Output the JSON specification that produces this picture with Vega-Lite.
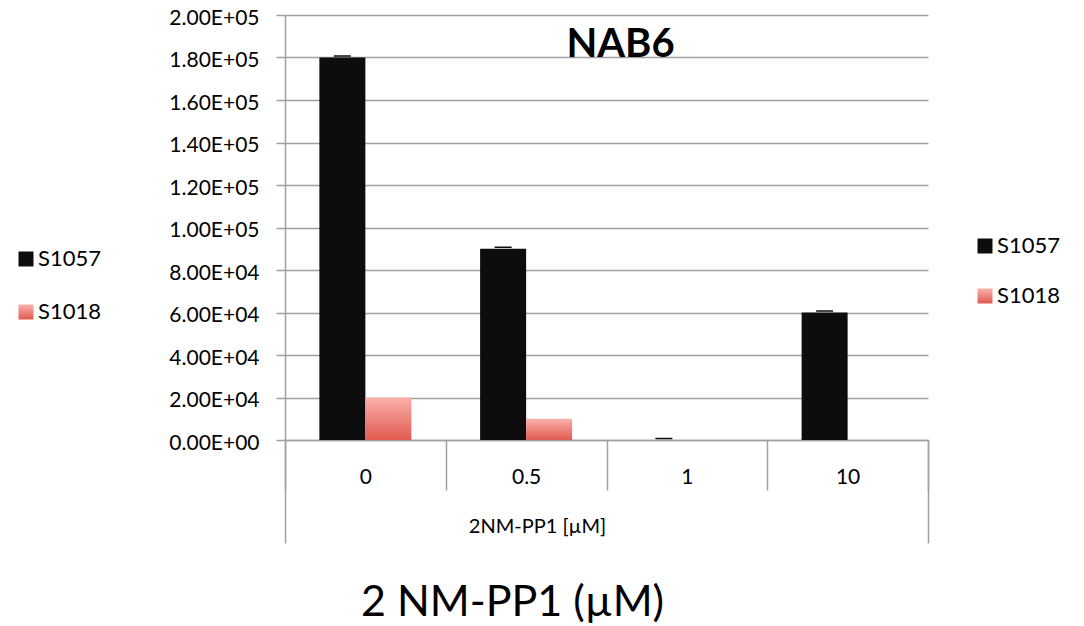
{
  "$schema": "https://vega.github.io/schema/vega-lite/v6.json",
  "width": 643,
  "height": 425,
  "autosize": {"type": "none"},
  "padding": {"left": 285, "top": 15, "right": 156, "bottom": 186},
  "background": "white",
  "config": {"font": "Lato", "view": {"stroke": null}},
  "title": {
    "text": "NAB6",
    "fontSize": 40,
    "fontWeight": "bold",
    "color": "black",
    "anchor": "middle",
    "frame": "group",
    "offset": 0,
    "baseline": "alphabetic",
    "dx": 14,
    "dy": 90
  },
  "data": {
    "values": [
      {"dose": "0", "series": "S1057", "value": 180000, "upper": 180700},
      {"dose": "0", "series": "S1018", "value": 20000, "upper": null},
      {"dose": "0.5", "series": "S1057", "value": 90000, "upper": 90700},
      {"dose": "0.5", "series": "S1018", "value": 10000, "upper": null},
      {"dose": "1", "series": "S1057", "value": 0, "upper": 700},
      {"dose": "1", "series": "S1018", "value": 0, "upper": null},
      {"dose": "10", "series": "S1057", "value": 60000, "upper": 60700},
      {"dose": "10", "series": "S1018", "value": 0, "upper": null}
    ]
  },
  "layer": [
    {
      "mark": {"type": "bar"},
      "encoding": {
        "x": {
          "field": "dose",
          "type": "nominal",
          "sort": ["0", "0.5", "1", "10"],
          "scale": {"paddingInner": 0, "paddingOuter": 0},
          "axis": {
            "orient": "bottom",
            "tickBand": "extent",
            "tickSize": 50,
            "tickColor": "#a0a0a0",
            "tickWidth": 1.5,
            "domainColor": "#a0a0a0",
            "domainWidth": 1.5,
            "grid": false,
            "labelAngle": 0,
            "labelFontSize": 21,
            "labelColor": "black",
            "labelPadding": -24,
            "title": "2NM-PP1 [µM]",
            "titleFontSize": 20,
            "titleFontWeight": "normal",
            "titleColor": "black",
            "titleX": 252,
            "titleY": 92,
            "titleAlign": "center",
            "titleBaseline": "alphabetic"
          }
        },
        "xOffset": {
          "field": "series",
          "type": "nominal",
          "sort": ["S1057", "S1018"],
          "scale": {"domain": ["S1057", "S1018"], "paddingInner": 0, "paddingOuter": 0.747}
        },
        "y": {
          "field": "value",
          "type": "quantitative",
          "title": null,
          "scale": {"domain": [0, 200000], "nice": false},
          "axis": {
            "title": null,
            "values": [0, 20000, 40000, 60000, 80000, 100000, 120000, 140000, 160000, 180000, 200000],
            "labelExpr": "replace(upper(format(datum.value, '.2e')), 'E+', 'E+0')",
            "labelFontSize": 21,
            "labelColor": "black",
            "labelPadding": 17,
            "labelBaseline": "middle",
            "labelOffset": 3,
            "tickSize": 9,
            "tickColor": "#a0a0a0",
            "tickWidth": 1.5,
            "domainColor": "#a0a0a0",
            "domainWidth": 1.5,
            "gridColor": "#a0a0a0",
            "gridWidth": 1.5
          }
        },
        "color": {
          "field": "series",
          "type": "nominal",
          "scale": {
            "domain": ["S1057", "S1018"],
            "range": [
              "#0d0d0d",
              {"expr": "{gradient: 'linear', x1: 0, y1: 0, x2: 0, y2: 1, stops: [{offset: 0, color: '#fbb0ab'}, {offset: 1, color: '#e05a4f'}]}"}
            ]
          },
          "legend": {
            "orient": "none",
            "legendX": 689,
            "legendY": 220,
            "title": null,
            "padding": 0,
            "symbolType": "square",
            "symbolSize": 225,
            "symbolStrokeWidth": 0,
            "labelFontSize": 22,
            "labelColor": "black",
            "labelOffset": 1,
            "rowPadding": 28
          }
        }
      }
    },
    {
      "mark": {"type": "tick", "thickness": 1.5, "size": 17, "opacity": 1},
      "encoding": {
        "x": {
          "field": "dose",
          "type": "nominal",
          "sort": ["0", "0.5", "1", "10"],
          "axis": {
            "orient": "bottom",
            "domain": false,
            "labels": false,
            "grid": false,
            "tickBand": "extent",
            "tickSize": 103,
            "tickColor": "#a0a0a0",
            "tickWidth": 1.5,
            "tickOpacity": {"condition": {"test": "datum.value === '10' || datum.extra", "value": 1}, "value": 0},
            "title": "2 NM-PP1 (µM)",
            "titleFontSize": 43,
            "titleFontWeight": "normal",
            "titleColor": "black",
            "titleX": 227,
            "titleY": 175,
            "titleAlign": "center",
            "titleBaseline": "alphabetic"
          }
        },
        "xOffset": {"field": "series", "type": "nominal", "sort": ["S1057", "S1018"]},
        "y": {"field": "upper", "type": "quantitative", "title": null},
        "color": {
          "field": "series",
          "type": "nominal",
          "scale": {
            "domain": ["S1057", "S1018"],
            "range": [
              "#0d0d0d",
              {"expr": "{gradient: 'linear', x1: 0, y1: 0, x2: 0, y2: 1, stops: [{offset: 0, color: '#fbb0ab'}, {offset: 1, color: '#e05a4f'}]}"}
            ]
          },
          "legend": {
            "orient": "none",
            "legendX": -270,
            "legendY": 233,
            "title": null,
            "padding": 0,
            "symbolType": "square",
            "symbolSize": 225,
            "symbolStrokeWidth": 0,
            "symbolOpacity": 1,
            "labelFontSize": 22,
            "labelColor": "black",
            "labelOffset": 1,
            "rowPadding": 31
          }
        }
      }
    }
  ],
  "resolve": {"scale": {"color": "independent"}, "axis": {"x": "independent"}}
}
